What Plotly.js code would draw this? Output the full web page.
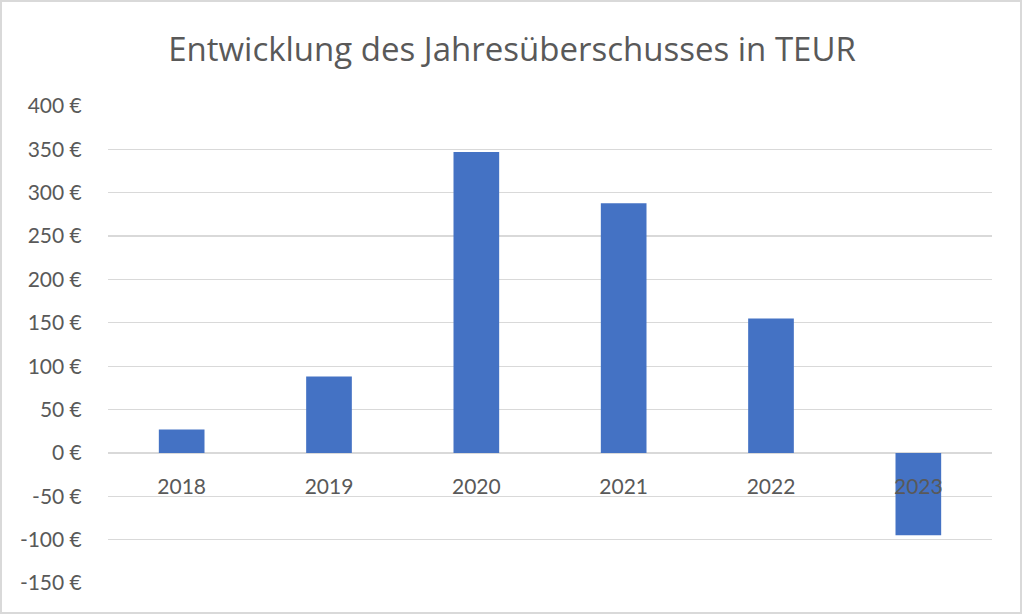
<!DOCTYPE html>
<html>
<head>
<meta charset="utf-8">
<script src="https://cdn.plot.ly/plotly-3.0.1.min.js"></script>
<style>
  html, body { margin: 0; padding: 0; background: #ffffff; }
  #wrap { position: relative; width: 1024px; height: 615px; }
  #chart { position: absolute; left: 0; top: 0; width: 1024px; height: 615px; }
  #frame { position: absolute; left: 0; top: 0; width: 1022px; height: 614px;
           border: 2px solid #d9d9d9; box-sizing: border-box; pointer-events: none; }
</style>
</head>
<body>
<div id="wrap">
  <div id="chart"></div>
  <div id="frame"></div>
</div>
<script>
const categories = ["2018", "2019", "2020", "2021", "2022", "2023"];
const values = [27, 88, 347, 288, 155, -95];
const yTickValues = [-150, -100, -50, 0, 50, 100, 150, 200, 250, 300, 350, 400];
const yTickLabels = ["-150 €", "-100 €", "-50 €", "0 €", "50 €", "100 €", "150 €", "200 €", "250 €", "300 €", "350 €", "400 €"];
const chartTitle = "Entwicklung des Jahresüberschusses in TEUR";

const textColor = "#595959";
const fontFamily = "Lato, 'Open Sans', sans-serif";
const titleFamily = "'Open Sans', Lato, sans-serif";

const yMin = -150, yMax = 400;

const trace = {
  type: "bar",
  x: categories,
  y: values,
  marker: { color: "#4472C4", line: { width: 0 } },
  hoverinfo: "x+y"
};

const layout = {
  width: 1024,
  height: 615,
  margin: { l: 108, r: 32, t: 106, b: 32, pad: 0 },
  paper_bgcolor: "#ffffff",
  plot_bgcolor: "#ffffff",
  showlegend: false,
  bargap: 0.69,
  font: { family: fontFamily, color: textColor, size: 21 },
  title: {
    text: chartTitle,
    font: { family: titleFamily, size: 33, color: textColor },
    x: 0.5,
    xref: "container",
    xanchor: "center",
    y: 1 - 49 / 615,
    yref: "container",
    yanchor: "middle"
  },
  xaxis: {
    type: "category",
    anchor: "free",
    position: (0 - yMin) / (yMax - yMin),
    showgrid: false,
    showline: false,
    zeroline: false,
    ticks: "outside",
    ticklen: 15,
    tickcolor: "rgba(0,0,0,0)",
    tickfont: { family: fontFamily, size: 21, color: textColor },
    fixedrange: true
  },
  yaxis: {
    range: [yMin, yMax],
    tickvals: yTickValues,
    ticktext: yTickLabels,
    showgrid: true,
    gridcolor: "#d9d9d9",
    gridwidth: 1.3,
    zeroline: true,
    zerolinecolor: "#d9d9d9",
    zerolinewidth: 1.3,
    showline: false,
    ticks: "outside",
    ticklen: 21,
    tickcolor: "rgba(0,0,0,0)",
    tickfont: { family: fontFamily, size: 21, color: textColor },
    fixedrange: true
  }
};

Plotly.newPlot("chart", [trace], layout, { displayModeBar: false, staticPlot: true });
</script>
</body>
</html>
